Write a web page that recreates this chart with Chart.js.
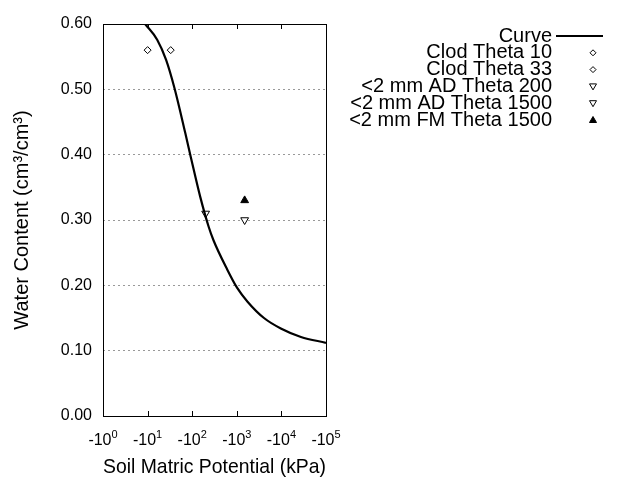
<!DOCTYPE html>
<html>
<head>
<meta charset="utf-8">
<script src="https://cdn.jsdelivr.net/npm/chart.js@4.4.0/dist/chart.umd.min.js"></script>
<style>
    html, body { margin:0; padding:0; background:#fff; }
    #wrap { width:640px; height:480px; }
</style>
</head>
<body>
<div id="wrap"><canvas id="retentionChart" width="640" height="480"></canvas></div>
<script>
// fitted curve, |matric potential| in kPa vs water content
var curveKpa   = [8.8, 16.4, 26, 40, 70, 94, 152, 233, 300, 613, 1020, 1740, 4070, 9700, 27400, 100000];
var curveTheta = [0.600, 0.576, 0.545, 0.502, 0.433, 0.395, 0.335, 0.290, 0.269, 0.224, 0.196, 0.175, 0.150, 0.134, 0.121, 0.112];

// measured points
var pointLabels = ['Clod Theta 10', 'Clod Theta 33', '<2 mm AD Theta 200', '<2 mm AD Theta 1500', '<2 mm FM Theta 1500'];
var pointKpa    = [10, 33, 200, 1500, 1500];
var pointTheta  = [0.56, 0.56, 0.31, 0.30, 0.33];

var xTickValues = [1, 10, 100, 1000, 10000, 100000];
var xTickExp    = ['0', '1', '2', '3', '4', '5'];
var yTickValues = [0, 0.1, 0.2, 0.3, 0.4, 0.5, 0.6];

var FONT = '"Liberation Sans", Arial, sans-serif';

var pointLook = [
    {style:'rectRot', radius:3.5, rotation:0, fill:'#ffffff'},
    {style:'rectRot', radius:3.5, rotation:0, fill:'#ffffff'},
    {style:'triangle', radius:4.5, rotation:180, fill:'#ffffff'},
    {style:'triangle', radius:4.5, rotation:180, fill:'#ffffff'},
    {style:'triangle', radius:4.5, rotation:0, fill:'#000000'}
];

var datasets = [{
    label:'Curve',
    data:curveKpa.map(function(k, i) { return {x:k, y:curveTheta[i]}; }),
    showLine:true,
    borderColor:'#000000',
    borderWidth:2.2,
    pointRadius:0,
    fill:false,
    cubicInterpolationMode:'monotone'
}];
for (let i=0; i<pointLabels.length; i++) {
    datasets.push({
        label:pointLabels[i],
        data:[{x:pointKpa[i], y:pointTheta[i]}],
        showLine:false,
        pointStyle:pointLook[i].style,
        pointRadius:pointLook[i].radius,
        pointRotation:pointLook[i].rotation,
        pointBackgroundColor:pointLook[i].fill,
        pointBorderColor:'#000000',
        pointBorderWidth:1
    });
}

// box, inward ticks, x labels with superscripts and the right-aligned legend
var framePlugin = {
    id:'frame',
    afterDraw:function(chart) {
        let ctx = chart.ctx;
        let a = chart.chartArea;
        let xs = chart.scales.x;
        ctx.save();
        ctx.strokeStyle = '#000';
        ctx.lineWidth = 1;
        ctx.strokeRect(a.left + 0.5, a.top + 0.5, a.right - a.left, a.bottom - a.top);
        ctx.beginPath();
        for (let i=1; i<xTickValues.length-1; i++) {
            let px = Math.round(xs.getPixelForValue(xTickValues[i])) + 0.5;
            ctx.moveTo(px, a.bottom); ctx.lineTo(px, a.bottom - 5);
            ctx.moveTo(px, a.top); ctx.lineTo(px, a.top + 5);
        }
        ctx.stroke();

        // x tick labels: -10 with raised exponent
        ctx.fillStyle = '#000';
        ctx.textBaseline = 'alphabetic';
        ctx.textAlign = 'left';
        for (let i=0; i<xTickValues.length; i++) {
            let px = xs.getPixelForValue(xTickValues[i]);
            ctx.font = '16px ' + FONT;
            let wBase = ctx.measureText('-10').width;
            ctx.font = '11px ' + FONT;
            let wExp = ctx.measureText(xTickExp[i]).width;
            let left = px - (wBase + wExp) / 2;
            ctx.font = '16px ' + FONT;
            ctx.fillText('-10', left, a.bottom + 29);
            ctx.font = '11px ' + FONT;
            ctx.fillText(xTickExp[i], left + wBase, a.bottom + 22);
        }

        ctx.font = '20px ' + FONT;
        ctx.textAlign = 'right';
        ctx.textBaseline = 'middle';
        let textRight = 552, markX = 593, y0 = 36, step = 16.8;
        chart.data.datasets.forEach(function(ds, i) {
            let y = y0 + i * step;
            ctx.fillStyle = '#000';
            ctx.fillText(ds.label, textRight, y);
            if (i == 0) {
                ctx.beginPath();
                ctx.lineWidth = 2;
                ctx.moveTo(556, y); ctx.lineTo(603, y);
                ctx.stroke();
                return;
            }
            let look = pointLook[i-1];
            ctx.lineWidth = 1;
            ctx.beginPath();
            if (look.style == 'rectRot') {
                ctx.moveTo(markX, y - 3); ctx.lineTo(markX + 3, y);
                ctx.lineTo(markX, y + 3); ctx.lineTo(markX - 3, y);
            } else if (look.rotation == 180) {
                ctx.moveTo(markX - 3.5, y - 2.5); ctx.lineTo(markX + 3.5, y - 2.5);
                ctx.lineTo(markX, y + 3.5);
            } else {
                ctx.moveTo(markX - 3.5, y + 2.5); ctx.lineTo(markX + 3.5, y + 2.5);
                ctx.lineTo(markX, y - 3.5);
            }
            ctx.closePath();
            ctx.fillStyle = look.fill;
            ctx.fill();
            ctx.stroke();
        });
        ctx.restore();
    }
};

var retentionChart = new Chart(document.getElementById('retentionChart'), {
    type:'scatter',
    data:{ datasets:datasets },
    plugins:[framePlugin],
    options:{
        responsive:false,
        animation:false,
        layout:{ padding:{ left:0, top:24, right:314, bottom:0 } },
        plugins:{
            legend:{ display:false },
            tooltip:{ enabled:false }
        },
        scales:{
            x:{
                type:'logarithmic',
                min:1,
                max:100000,
                afterBuildTicks:function(axis) {
                    axis.ticks = xTickValues.map(function(v) { return {value:v}; });
                },
                afterFit:function(axis) { axis.height = 64; },
                grid:{ display:false, drawTicks:false },
                border:{ display:false },
                ticks:{
                    autoSkip:false,
                    maxRotation:0,
                    callback:function() { return ''; }
                },
                title:{
                    display:true,
                    text:'Soil Matric Potential (kPa)',
                    color:'#000',
                    font:{ family:FONT, size:21 },
                    padding:{ top:0, bottom:0 }
                }
            },
            y:{
                min:0,
                max:0.6,
                afterBuildTicks:function(axis) {
                    axis.ticks = yTickValues.map(function(v) { return {value:v}; });
                },
                afterFit:function(axis) { axis.width = 103; },
                grid:{
                    drawTicks:false,
                    color:function(c) {
                        let v = c.tick ? c.tick.value : 0;
                        return (v > 0.01 && v < 0.59) ? '#999999' : 'rgba(0,0,0,0)';
                    },
                    lineWidth:1
                },
                border:{ display:false, dash:[2,3] },
                ticks:{
                    padding:11,
                    color:'#000',
                    font:{ family:FONT, size:16 },
                    callback:function(v) { return v.toFixed(2); }
                },
                title:{
                    display:true,
                    text:'Water Content (cm\u00b3/cm\u00b3)',
                    color:'#000',
                    font:{ family:FONT, size:20 },
                    padding:{ top:10, bottom:0 }
                }
            }
        }
    }
});
</script>
</body>
</html>
